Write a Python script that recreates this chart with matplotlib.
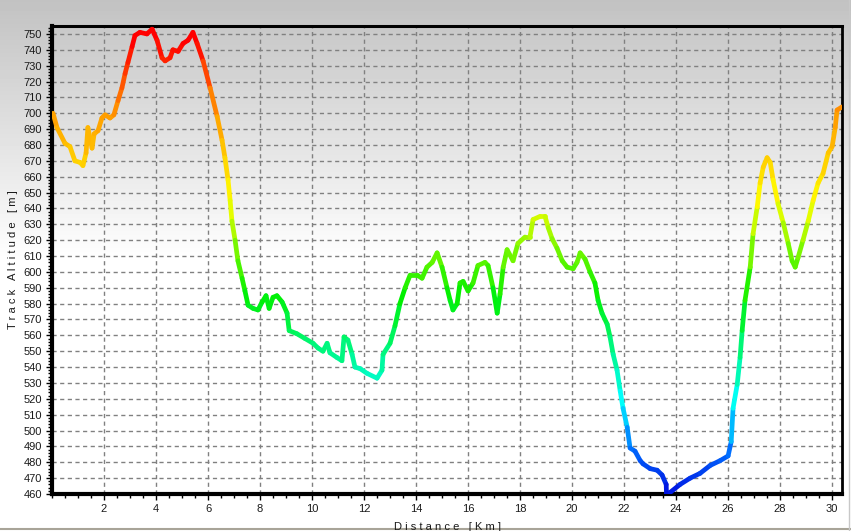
import matplotlib
matplotlib.use("Agg")
import matplotlib.pyplot as plt
import numpy as np
from matplotlib.collections import LineCollection
from matplotlib.colors import LinearSegmentedColormap, Normalize
from matplotlib.ticker import MultipleLocator

# Профиль трека: дистанция [км] и высота [м]
distance = [
    0.04, 0.19, 0.50, 0.69, 0.88, 1.08, 1.19, 1.31, 1.38, 1.54, 1.62, 1.77,
    1.92, 2.04, 2.23, 2.38, 2.54, 2.69, 2.81, 2.92, 3.08, 3.19, 3.38, 3.65,
    3.85, 4.04, 4.23, 4.35, 4.54, 4.65, 4.85, 5.04, 5.23, 5.42, 5.58, 5.81,
    6.08, 6.35, 6.54, 6.65, 6.77, 6.85, 6.92, 7.04, 7.15, 7.31, 7.42, 7.54,
    7.73, 7.92, 8.08, 8.23, 8.35, 8.50, 8.65, 8.85, 9.04, 9.12, 9.42, 9.73,
    10.04, 10.23, 10.42, 10.58, 10.69, 10.96, 11.15, 11.23, 11.38, 11.54,
    11.65, 11.85, 12.12, 12.50, 12.69, 12.73, 13.00, 13.19, 13.38, 13.58,
    13.77, 14.04, 14.23, 14.42, 14.62, 14.81, 15.00, 15.19, 15.31, 15.42,
    15.58, 15.69, 15.81, 16.00, 16.19, 16.38, 16.65, 16.77, 16.96, 17.12,
    17.23, 17.35, 17.50, 17.73, 17.92, 18.19, 18.38, 18.50, 18.77, 18.96,
    19.08, 19.23, 19.42, 19.62, 19.81, 20.04, 20.19, 20.31, 20.50, 20.69,
    20.88, 21.00, 21.15, 21.35, 21.46, 21.58, 21.73, 21.85, 21.96, 22.12,
    22.23, 22.42, 22.62, 22.73, 23.00, 23.27, 23.46, 23.62, 23.63, 23.77,
    24.15, 24.54, 24.92, 25.31, 25.69, 26.00, 26.12, 26.19, 26.35, 26.46,
    26.54, 26.65, 26.85, 26.96, 27.12, 27.23, 27.35, 27.50, 27.62, 27.73,
    27.92, 28.12, 28.31, 28.46, 28.58, 28.69, 28.88, 29.08, 29.27, 29.46,
    29.65, 29.85, 30.00, 30.12, 30.19, 30.38,
]
altitude = [
    700, 691, 681, 679, 670, 669, 667, 675, 691, 678, 687, 689,
    697, 699, 697, 699, 708, 716, 725, 732, 742, 749, 751, 750,
    753, 746, 735, 733, 735, 740, 739, 744, 746, 751, 744, 733,
    716, 698, 683, 672, 658, 645, 632, 620, 607, 596, 588, 579,
    577, 576, 581, 585, 577, 584, 585, 581, 574, 563, 561, 558,
    555, 552, 550, 555, 549, 546, 544, 559, 557, 548,
    540, 539, 536, 533, 538, 548, 555, 566, 580, 590,
    598, 598, 596, 603, 606, 612, 603, 590, 582, 576,
    580, 593, 594, 588, 593, 604, 606, 604, 590, 574,
    586, 603, 614, 607, 618, 622, 622, 633, 635, 635,
    628, 621, 615, 607, 603, 602, 606, 612, 608, 600,
    593, 582, 574, 567, 559, 548, 538, 525, 514, 502,
    489, 487, 481, 479, 476, 475, 472, 466, 460, 461,
    466, 470, 473, 478, 481, 484, 493, 514, 529, 546,
    563, 582, 603, 624, 641, 656, 666, 672, 669, 658,
    643, 631, 618, 607, 603, 609, 620, 632, 645, 656,
    662, 675, 679, 691, 702, 704,
]

# Цвета линии по высоте
alt_nodes = [460, 488, 518, 585, 645, 700, 745]
node_colors = ["#0010e0", "#0070ff", "#00ffff", "#00f000", "#ffff00",
               "#ff9a00", "#ff0000"]
lo, hi = alt_nodes[0], alt_nodes[-1]
cmap = LinearSegmentedColormap.from_list(
    "alt", [((a - lo) / (hi - lo), c) for a, c in zip(alt_nodes, node_colors)])
norm = Normalize(lo, hi)

fig = plt.figure(figsize=(8.51, 5.31), dpi=100)

# Фон - вертикальный градиент
bg = fig.add_axes([0, 0, 1, 1], zorder=-1)
rows = np.arange(531)
shade = np.clip(0.76 + 0.24 * rows / 260, 0, 1)
bg.imshow(np.repeat(shade[:, None], 2, axis=1), cmap="gray", vmin=0, vmax=1,
          aspect="auto", extent=[0, 1, 0, 1], origin="upper")
bg.axhline(0.003, color="#a8a498", lw=1.5)
bg.axvline(0.998, color="#c8c8c8", lw=1.0)
bg.set_xlim(0, 1)
bg.set_ylim(0, 1)
bg.axis("off")

ax = fig.add_axes([52 / 851, 37 / 531, 790 / 851, 468 / 531])
ax.set_facecolor("none")

x = np.array(distance)
y = np.array(altitude)
pts = np.column_stack([x, y]).reshape(-1, 1, 2)
segs = np.concatenate([pts[:-1], pts[1:]], axis=1)
lc = LineCollection(segs, cmap=cmap, norm=norm, linewidth=3.4,
                    capstyle="round", joinstyle="round", zorder=3)
lc.set_array((y[:-1] + y[1:]) / 2)
ax.add_collection(lc)

ax.set_xlim(0, 30.38)
ax.set_ylim(460, 755)
ax.xaxis.set_major_locator(MultipleLocator(2))
ax.xaxis.set_minor_locator(MultipleLocator(0.5))
ax.yaxis.set_major_locator(MultipleLocator(10))
ax.yaxis.set_minor_locator(MultipleLocator(2))
ax.set_xticks(np.arange(2, 31, 2))
ax.grid(True, which="major", color="#808080", linestyle=(0, (3, 2.5)),
        linewidth=1.0)
ax.tick_params(which="both", direction="out", colors="black",
               labelcolor="#1a1a1a", labelsize=8)
ax.tick_params(which="major", length=4, width=1)
ax.tick_params(which="minor", length=3, width=1)
ax.tick_params(axis="y", pad=3)
for lbl in ax.get_xticklabels() + ax.get_yticklabels():
    lbl.set_family("Liberation Sans")
for side, w in (("left", 3), ("bottom", 3), ("top", 2.2), ("right", 2)):
    ax.spines[side].set_linewidth(w)
    ax.spines[side].set_color("black")

ax.set_xlabel("D i s t a n c e   [ K m ]", family="Liberation Sans",
              fontsize=8, color="#1a1a1a")
ax.set_ylabel("T r a c k   A l t i t u d e   [ m ]", family="Liberation Sans",
              fontsize=8, color="#1a1a1a")
ax.xaxis.set_label_coords(0.5, -0.06)
ax.yaxis.set_label_coords(-0.043, 0.5)

fig.savefig("out.png", dpi=100)
